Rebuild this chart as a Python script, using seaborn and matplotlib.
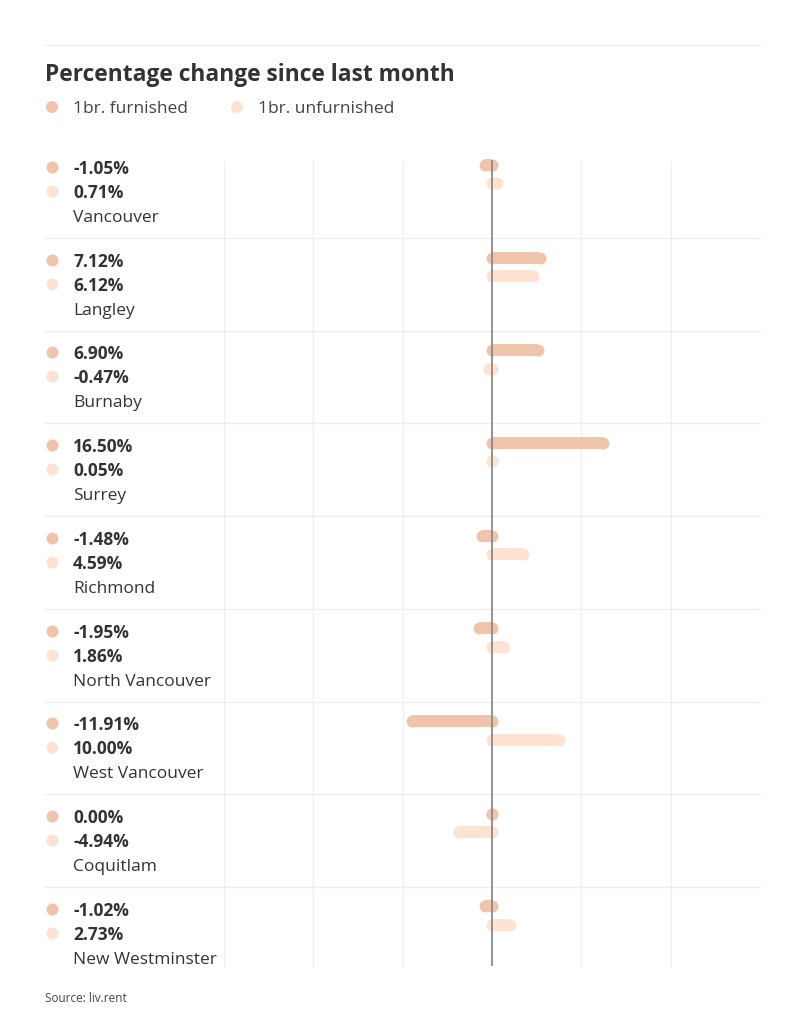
import matplotlib
matplotlib.use("Agg")
import matplotlib.pyplot as plt
import matplotlib.transforms as mtransforms
from matplotlib.lines import Line2D
import numpy as np
import pandas as pd
import seaborn as sns

cities = ["Vancouver", "Langley", "Burnaby", "Surrey", "Richmond",
          "North Vancouver", "West Vancouver", "Coquitlam", "New Westminster"]
furnished = [-1.05, 7.12, 6.90, 16.50, -1.48, -1.95, -11.91, 0.00, -1.02]
unfurnished = [0.71, 6.12, -0.47, 0.05, 4.59, 1.86, 10.00, -4.94, 2.73]
series_names = ["1br. furnished", "1br. unfurnished"]
title = "Percentage change since last month"
source = "Source: liv.rent"

sns.set_theme(style="white")
plt.rcParams["font.family"] = ["Open Sans", "DejaVu Sans"]

C_FURN = "#efc4aa"
C_UNF = "#fee3d3"
TXT = "#333333"

W, H = 805, 1024
fig = plt.figure(figsize=(W / 100, H / 100), dpi=100)

row_top0 = 145.3
pitch = 92.7
n = len(cities)
ax_left, ax_right = 224, 760
ax = fig.add_axes([ax_left / W, 1 - (row_top0 + n * pitch) / H,
                   (ax_right - ax_left) / W, n * pitch / H])
ax.set_xlim(-40, 40)
ax.set_ylim(n, 0)
ax.axis("off")

def py(p):
    return (p - row_top0) / pitch

# vertical gridlines
grid_x = np.linspace(-40, 40, 7)
for gx in grid_x:
    if abs(gx) < 1e-9:
        continue
    ax.vlines(gx, py(160), py(968), color="#f0f0f0", lw=1, zorder=0)

# bars: butt line + round end markers (so zero values show as a dot)
df = pd.DataFrame({"city": cities, "furn": furnished, "unf": unfurnished})
off_f, off_u = 19.5 / pitch, 38 / pitch
BAR = 8.6
for i, row in df.iterrows():
    for val, off, col in ((row["furn"], off_f, C_FURN), (row["unf"], off_u, C_UNF)):
        ax.plot([0, val], [i + off, i + off], color=col, lw=BAR,
                solid_capstyle="butt", marker="o", markersize=BAR,
                markeredgewidth=0, markerfacecolor=col, zorder=2)

# zero line
ax.vlines(0, py(160), py(966), color="#8a8a8a", lw=1.3, zorder=3)

# blended transform: x in figure fraction, y in data
tr = mtransforms.blended_transform_factory(fig.transFigure, ax.transData)

# separators
for i in range(1, n):
    ax.add_line(Line2D([45 / W, 760 / W], [i, i], transform=tr,
                       color="#eeeeee", lw=1, clip_on=False, zorder=0))

# left text column
mx = 52 / W
tx = 73 / W
FS = 12.5
for i, c in enumerate(cities):
    m1 = i + 21.7 / pitch
    m2 = i + 45.7 / pitch
    y1 = i + 23.7 / pitch
    y2 = i + 47.7 / pitch
    y3 = i + 72.7 / pitch
    ax.scatter([mx], [m1], transform=tr, s=75, color=C_FURN, clip_on=False, linewidths=0)
    ax.scatter([mx], [m2], transform=tr, s=75, color=C_UNF, clip_on=False, linewidths=0)
    ax.text(tx, y1, f"{furnished[i]:.2f}%", transform=tr, fontsize=FS,
            fontweight="bold", color=TXT, va="center", ha="left")
    ax.text(tx, y2, f"{unfurnished[i]:.2f}%", transform=tr, fontsize=FS,
            fontweight="bold", color=TXT, va="center", ha="left")
    ax.text(tx, y3, c, transform=tr, fontsize=FS, color=TXT,
            va="center", ha="left")

# top rule
fig.add_artist(Line2D([45 / W, 760 / W], [1 - 45 / H, 1 - 45 / H],
                      transform=fig.transFigure, color="#eeeeee", lw=1))

# title
fig.text(45 / W, 1 - 75 / H, title, fontsize=16.4, fontweight="bold",
         color=TXT, va="center", ha="left")

# legend
leg_ax = fig.add_axes([0, 0, 1, 1], facecolor="none")
leg_ax.set_xlim(0, W)
leg_ax.set_ylim(H, 0)
leg_ax.axis("off")
leg_df = pd.DataFrame({"x": [52, 237], "y": [107, 107], "s": series_names})
sns.scatterplot(data=leg_df, x="x", y="y", hue="s", palette=[C_FURN, C_UNF],
                s=75, linewidth=0, legend=False, ax=leg_ax)
for xx, name in zip([73, 258], series_names):
    leg_ax.text(xx, 109, name, fontsize=12.5, color="#444444", va="center", ha="left")

# source
fig.text(45 / W, 1 - 998 / H, source, fontsize=8.5, color="#444444",
         va="center", ha="left")

fig.savefig("out.png", dpi=100)
